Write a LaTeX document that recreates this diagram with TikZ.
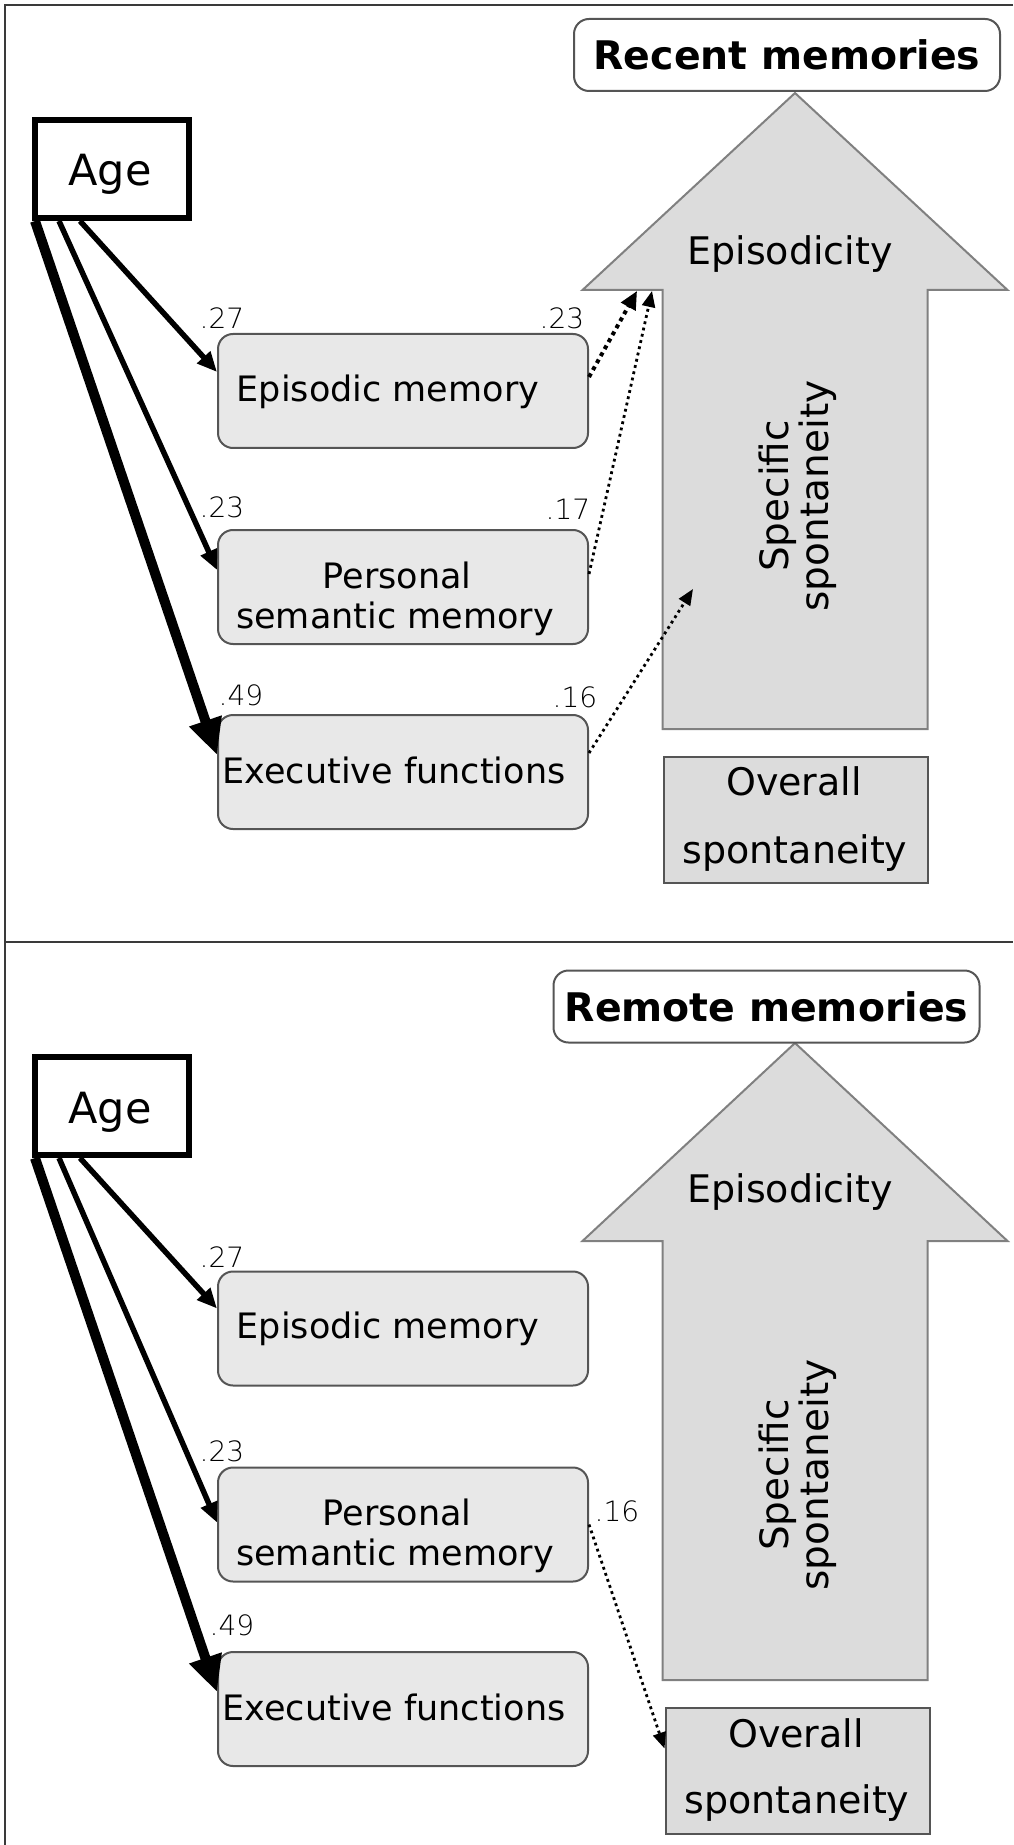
\documentclass[tikz,border=0pt]{standalone}
\usepackage{fontspec}
\setmainfont{DejaVu Sans}
\newfontfamily\lightfont{DejaVu Sans ExtraLight}
\usetikzlibrary{arrows.meta}
\definecolor{boxfill}{HTML}{E8E8E8}
\definecolor{arrfill}{HTML}{DCDCDC}
\definecolor{edgegray}{HTML}{555555}
\definecolor{arredge}{HTML}{808080}
\definecolor{framec}{HTML}{3A3A3A}
\begin{document}
\begin{tikzpicture}[x=0.5pt,y=-0.5pt,
  varbox/.style={draw=edgegray, line width=1pt, fill=boxfill, rounded corners=7.5pt,
    minimum width=185pt, minimum height=57pt, inner sep=0pt},
  boxtext/.style={font=\fontsize{17.5}{20}\selectfont, inner sep=0pt, anchor=base},
  agebox/.style={draw=black, line width=3pt, fill=white, minimum width=77pt,
    minimum height=49pt, inner sep=0pt},
  agetext/.style={font=\fontsize{21.5}{24}\selectfont, inner sep=0pt, anchor=base},
  titlebox/.style={draw=edgegray, line width=1pt, fill=white, rounded corners=7.5pt,
    minimum width=213pt, minimum height=36pt, inner sep=0pt,
    font=\fontsize{19.7}{22}\selectfont\bfseries},
  ovbox/.style={draw=edgegray, line width=1pt, fill=arrfill, minimum width=132pt,
    minimum height=63pt, inner sep=0pt},
  ovtext/.style={font=\fontsize{19}{22}\selectfont, inner sep=0pt, anchor=base},
  bigarrow/.style={draw=arredge, line width=1pt, fill=arrfill},
  arrtext/.style={font=\fontsize{19}{22}\selectfont, inner sep=0pt},
  rottext/.style={font=\fontsize{19.5}{20}\selectfont, inner sep=0pt, rotate=90, align=center},
  coef/.style={font=\fontsize{14}{16}\selectfont\lightfont, inner sep=0pt},
  thinpath/.style={line width=2.75pt, -{Triangle[length=10pt,width=8.5pt]}},
  thickpath/.style={line width=5pt, -{Triangle[length=18pt,width=16pt]}},
  dotpath/.style={line width=1.4pt, dash pattern=on 1.4pt off 1.8pt,
    -{Triangle[length=8pt,width=6.5pt]}},
  dotpathbold/.style={line width=2pt, dash pattern=on 2pt off 2pt,
    -{Triangle[length=9pt,width=8pt]}}
]
\useasboundingbox (0,0) rectangle (1013,1845);
% frame
\draw[framec, line width=1pt] (1013,5) -- (5,5) -- (5,1845);
\draw[framec, line width=1pt] (5,942) -- (1013,942);

% ================= TOP PANEL =================
\draw[bigarrow] (795,93) -- (1007.5,290) -- (927.5,290) -- (927.5,729)
  -- (662.5,729) -- (662.5,290) -- (582.5,290) -- cycle;
\node[arrtext, anchor=base] (epi1) at (790,265) {Episodicity};
\node[rottext] (spec1) at (798,496) {Specific\\spontaneity};
\node[titlebox] (title1) at (787,55) {Recent memories};
\node[agebox] (age1) at (112,169) {};
\node[agetext] (age1t) at (110,186) {Age};
\node[varbox] (em1) at (403,391) {};
\node[boxtext] (em1t) at (388,402) {Episodic memory};
\node[varbox] (psm1) at (403,587) {};
\node[boxtext] (psm1a) at (397,588) {Personal};
\node[boxtext] (psm1b) at (395,628) {semantic memory};
\node[varbox] (ef1) at (403,772) {};
\node[boxtext] (ef1t) at (394,783) {Executive functions};
\node[ovbox] (ov1) at (796,820) {};
\node[ovtext] (ov1a) at (794,795) {Overall};
\node[ovtext] (ov1b) at (795,863) {spontaneity};

\coordinate (t1a) at (637,291);
\coordinate (t1b) at (652,291);
\coordinate (t1c) at (693,589);

\draw[thickpath] ([xshift=1.5pt]age1.south west) -- ([yshift=8.5pt]ef1.west);
\draw[thinpath] ([xshift=13.5pt]age1.south west) -- ([yshift=8.5pt]psm1.west);
\draw[thinpath] ([xshift=24pt]age1.south west) -- ([yshift=9.5pt]em1.west);

\draw[dotpathbold] ([yshift=7pt]em1.east) -- (t1a);
\draw[dotpath] ([yshift=6.5pt]psm1.east) -- (t1b);
\draw[dotpath] ([yshift=9.5pt]ef1.east) -- (t1c);

\node[coef] (c1) at (222,318) {.27};
\node[coef] (c2) at (562,318) {.23};
\node[coef] (c3) at (222,507) {.23};
\node[coef] (c4) at (568,509) {.17};
\node[coef] (c5) at (241,695) {.49};
\node[coef] (c6) at (575,697) {.16};

% ================= BOTTOM PANEL =================
\draw[bigarrow] (795,1043) -- (1007.5,1241) -- (927.5,1241) -- (927.5,1680)
  -- (662.5,1680) -- (662.5,1241) -- (582.5,1241) -- cycle;
\node[arrtext, anchor=base] (epi2) at (790,1202) {Episodicity};
\node[rottext] (spec2) at (798,1475) {Specific\\spontaneity};
\node[titlebox] (title2) at (766.5,1006.5) {Remote memories};
\node[agebox] (age2) at (112,1106) {};
\node[agetext] (age2t) at (110,1123) {Age};
\node[varbox] (em2) at (403,1328.5) {};
\node[boxtext] (em2t) at (388,1338) {Episodic memory};
\node[varbox] (psm2) at (403,1524.5) {};
\node[boxtext] (psm2a) at (397,1525) {Personal};
\node[boxtext] (psm2b) at (395,1565) {semantic memory};
\node[varbox] (ef2) at (403,1709) {};
\node[boxtext] (ef2t) at (394,1720) {Executive functions};
\node[ovbox] (ov2) at (797.5,1770.5) {};
\node[ovtext] (ov2a) at (796,1747) {Overall};
\node[ovtext] (ov2b) at (797,1813) {spontaneity};

\draw[thickpath] ([xshift=1.5pt]age2.south west) -- ([yshift=8.5pt]ef2.west);
\draw[thinpath] ([xshift=13.5pt]age2.south west) -- ([yshift=1pt]psm2.west);
\draw[thinpath] ([xshift=24pt]age2.south west) -- ([yshift=10pt]em2.west);

\draw[dotpath] (psm2.east) -- ([yshift=11pt]ov2.west);

\node[coef] (d1) at (222,1257) {.27};
\node[coef] (d2) at (222,1451) {.23};
\node[coef] (d3) at (232,1625) {.49};
\node[coef] (d4) at (617,1511) {.16};
\end{tikzpicture}
\end{document}
